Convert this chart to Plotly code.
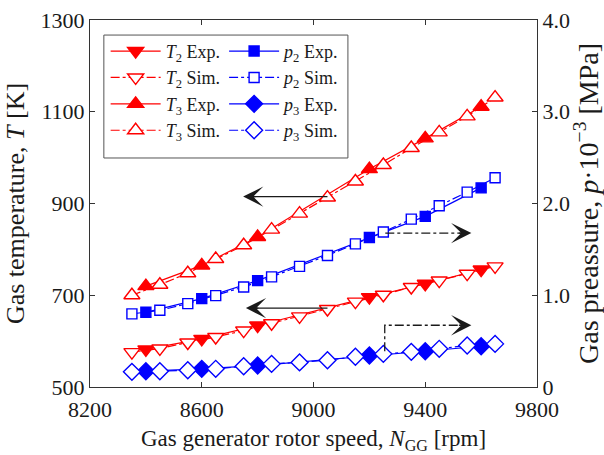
import plotly.graph_objects as go

rpm_sim = [8350, 8450, 8550, 8650, 8750, 8850, 8950, 9050, 9150, 9250, 9350, 9450, 9550, 9650]
rpm_exp = [8400, 8600, 8800, 9200, 9400, 9600]

T2_sim = [576, 584, 597, 609, 623, 639, 654, 670, 686, 701, 718, 732, 747, 763]
T2_exp = [582, 605, 634, 696, 725, 756]
T3_sim = [700, 723, 748, 779, 809, 843, 878, 913, 948, 984, 1021, 1055, 1090, 1131]
T3_exp = [720, 765, 827, 975, 1042, 1111]
p2_sim = [0.797, 0.836, 0.909, 0.996, 1.09, 1.20, 1.315, 1.434, 1.56, 1.69, 1.83, 1.975, 2.124, 2.28]
p2_exp = [0.814, 0.963, 1.159, 1.63, 1.86, 2.17]
p3_sim = [0.165, 0.172, 0.183, 0.198, 0.226, 0.252, 0.268, 0.292, 0.329, 0.361, 0.383, 0.416, 0.452, 0.47]
p3_exp = [0.172, 0.198, 0.234, 0.343, 0.39, 0.444]

x_ticks = [8200, 8600, 9000, 9400, 9800]
x_ticktext = ["8200", "8600", "9000", "9400", "9800"]
yT_ticks = [500, 700, 900, 1100, 1300]
yp_ticks = [0, 1, 2, 3, 4]
yp_ticktext = ["0", "1.0", "2.0", "3.0", "4.0"]

RED = "#ff0000"
BLUE = "#0000ff"
FONT = "Liberation Serif"
TXT = "#1a1a1a"

fig = go.Figure()

def add(x, y, name, color, dash, symbol, filled, size, yaxis, legend):
    fig.add_trace(go.Scatter(
        x=x, y=y, name=name, mode="lines+markers", yaxis=yaxis, legend=legend,
        legendgroup=name,
        line=dict(color=color, width=1.2, dash=dash),
        marker=dict(symbol=symbol, size=size,
                    color=color if filled else "white",
                    line=dict(color=color, width=1.4)),
    ))

add(rpm_exp, T2_exp, "<i>T</i><sub>2</sub> Exp.", RED, "solid", "triangle-down", True, 14, "y", "legend")
add(rpm_sim, T2_sim, "<i>T</i><sub>2</sub> Sim.", RED, "dashdot", "triangle-down", False, 14, "y", "legend")
add(rpm_exp, T3_exp, "<i>T</i><sub>3</sub> Exp.", RED, "solid", "triangle-up", True, 14, "y", "legend")
add(rpm_sim, T3_sim, "<i>T</i><sub>3</sub> Sim.", RED, "dashdot", "triangle-up", False, 14, "y", "legend")
add(rpm_exp, p2_exp, "<i>p</i><sub>2</sub> Exp.", BLUE, "solid", "square", True, 10, "y2", "legend2")
add(rpm_sim, p2_sim, "<i>p</i><sub>2</sub> Sim.", BLUE, "dashdot", "square", False, 10, "y2", "legend2")
add(rpm_exp, p3_exp, "<i>p</i><sub>3</sub> Exp.", BLUE, "solid", "diamond", True, 13, "y2", "legend2")
add(rpm_sim, p3_sim, "<i>p</i><sub>3</sub> Sim.", BLUE, "dashdot", "diamond", False, 13, "y2", "legend2")

# arrow shafts
ARW = "#1a1a1a"
fig.add_trace(go.Scatter(x=[9050, 8770], y=[915, 915], mode="lines", yaxis="y",
                         line=dict(color=ARW, width=1.3), showlegend=False, hoverinfo="skip"))
fig.add_trace(go.Scatter(x=[9050, 8780], y=[672, 672], mode="lines", yaxis="y",
                         line=dict(color=ARW, width=1.3), showlegend=False, hoverinfo="skip"))
fig.add_trace(go.Scatter(x=[9257, 9540], y=[1.678, 1.678], mode="lines", yaxis="y2",
                         line=dict(color=ARW, width=1.3, dash="dashdot"), showlegend=False, hoverinfo="skip"))
fig.add_trace(go.Scatter(x=[9255, 9255, 9540], y=[0.39, 0.673, 0.673], mode="lines", yaxis="y2",
                         line=dict(color=ARW, width=1.3, dash="dashdot"), showlegend=False, hoverinfo="skip"))

heads = [
    dict(x=8748, y=915, yref="y", ax=14, ay=0),
    dict(x=8758, y=672, yref="y", ax=14, ay=0),
    dict(x=9565, y=1.678, yref="y2", ax=-14, ay=0),
    dict(x=9565, y=0.673, yref="y2", ax=-14, ay=0),
]
for h in heads:
    fig.add_annotation(x=h["x"], y=h["y"], xref="x", yref=h["yref"], ax=h["ax"], ay=h["ay"],
                       axref="pixel", ayref="pixel", showarrow=True, arrowhead=3,
                       arrowsize=2.6, arrowwidth=1.3, arrowcolor=ARW, text="", standoff=0)

axis_common = dict(showline=True, linecolor="#333", linewidth=1, ticks="inside", ticklen=5,
                   tickcolor="#333", showgrid=False, zeroline=False, automargin=False,
                   tickfont=dict(family=FONT, size=22, color=TXT))

fig.update_layout(
    width=604, height=455,
    margin=dict(l=90, r=67, t=20, b=68),
    paper_bgcolor="white", plot_bgcolor="white",
    font=dict(family=FONT, color=TXT),
    xaxis=dict(range=[8200, 9800], tickvals=x_ticks, ticktext=x_ticktext, mirror="ticks",
               ticklabelstandoff=3,
               title=dict(text="Gas generator rotor speed, <i>N</i><sub>GG</sub> [rpm]",
                          font=dict(family=FONT, size=23, color=TXT), standoff=8),
               **axis_common),
    yaxis=dict(range=[500, 1300], tickvals=yT_ticks,
               title=dict(text="Gas temperature, <i>T</i> [K]",
                          font=dict(family=FONT, size=26, color=TXT), standoff=8),
               **axis_common),
    yaxis2=dict(range=[0, 4], tickvals=yp_ticks, ticktext=yp_ticktext, overlaying="y", side="right",
                title=dict(text="Gas preassure, <i>p</i>·10<sup>−3</sup> [MPa]",
                           font=dict(family=FONT, size=28, color=TXT), standoff=6),
                **axis_common),
    legend=dict(x=0.035, y=0.965, xanchor="left", yanchor="top", bgcolor="rgba(0,0,0,0)",
                font=dict(family=FONT, size=18, color=TXT), tracegroupgap=9, traceorder="normal",
                itemwidth=50),
    legend2=dict(x=0.3, y=0.965, xanchor="left", yanchor="top", bgcolor="rgba(0,0,0,0)",
                 font=dict(family=FONT, size=18, color=TXT), tracegroupgap=9, traceorder="normal",
                 itemwidth=50),
    shapes=[dict(type="rect", xref="paper", yref="paper", x0=0.031, x1=0.577, y0=0.624, y1=0.959,
                 line=dict(color="#555", width=1), fillcolor="rgba(0,0,0,0)")],
)

fig.write_html("out.html")
